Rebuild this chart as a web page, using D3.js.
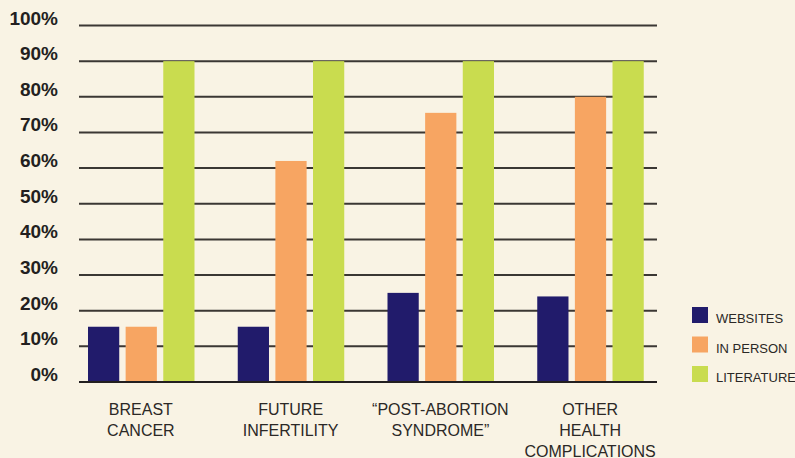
<!DOCTYPE html>
<html><head><meta charset="utf-8">
<script src="https://cdn.jsdelivr.net/npm/d3@7"></script>
<style>html,body{margin:0;padding:0;background:#f9f3e4;}svg{display:block;}</style>
</head><body><svg id="c" width="795" height="458"></svg>
<script>
const categories = [["BREAST","CANCER"],["FUTURE","INFERTILITY"],["\u201CPOST-ABORTION","SYNDROME\u201D"],["OTHER","HEALTH","COMPLICATIONS"]];
const seriesNames = ["WEBSITES","IN PERSON","LITERATURE"];
const websites = [15.5, 15.5, 25, 24];
const inPerson = [15.5, 62, 75.5, 80];
const literature = [90, 90, 90, 90];
const yTicks = [0,10,20,30,40,50,60,70,80,90,100];
const colors = ["#211b6b","#f7a562","#c9dc4f"];

const svg = d3.select("#c");
svg.append("rect").attr("width",795).attr("height",458).attr("fill","#f9f3e4");
const y = d3.scaleLinear().domain([0,100]).range([382,25.5]);
const x0 = d3.scaleBand().domain(d3.range(categories.length)).range([66,665]).paddingInner(0).paddingOuter(0);
const x1 = d3.scaleBand().domain(d3.range(3)).range([22,128.5]).paddingInner(0.17).paddingOuter(0);

// gridlines
svg.append("g").selectAll("line").data(yTicks).join("line")
  .attr("x1",79).attr("x2",657)
  .attr("y1",d=>y(d)).attr("y2",d=>y(d))
  .attr("stroke",d=>d===0?"#231f20":"#3b3733").attr("stroke-width",2);

// y labels
svg.append("g").selectAll("text").data(yTicks).join("text")
  .attr("x",58).attr("y",d=>y(d)-1)
  .attr("text-anchor","end")
  .attr("font-family","Liberation Sans, Arial, sans-serif").attr("font-weight","bold").attr("font-size",19)
  .attr("fill","#231f20").text(d=>d+"%");

const series = [websites,inPerson,literature];
const g = svg.append("g");
series.forEach((vals,si)=>{
  g.append("g").selectAll("rect").data(vals).join("rect")
    .attr("x",(d,i)=>x0(i)+x1(si))
    .attr("width",x1.bandwidth())
    .attr("y",d=>y(d))
    .attr("height",d=>y(0)-y(d)-1)
    .attr("fill",colors[si]);
});

// category labels
const cl = svg.append("g");
categories.forEach((lines,i)=>{
  const t = cl.append("text").attr("text-anchor","middle")
    .attr("font-family","Liberation Sans, Arial, sans-serif").attr("font-size",16).attr("fill","#2b2826");
  lines.forEach((ln,j)=>{
    t.append("tspan").attr("x",x0(i)+x0.bandwidth()/2).attr("y",414.5+j*21).text(ln);
  });
});

// legend
const lg = svg.append("g");
seriesNames.forEach((n,i)=>{
  lg.append("rect").attr("x",692).attr("y",307+i*29.5).attr("width",16).attr("height",16).attr("fill",colors[i]);
  lg.append("text").attr("x",716).attr("y",323+i*29.5)
    .attr("font-family","Liberation Sans, Arial, sans-serif").attr("font-size",13).attr("fill","#2b2826").text(n);
});
</script></body></html>
